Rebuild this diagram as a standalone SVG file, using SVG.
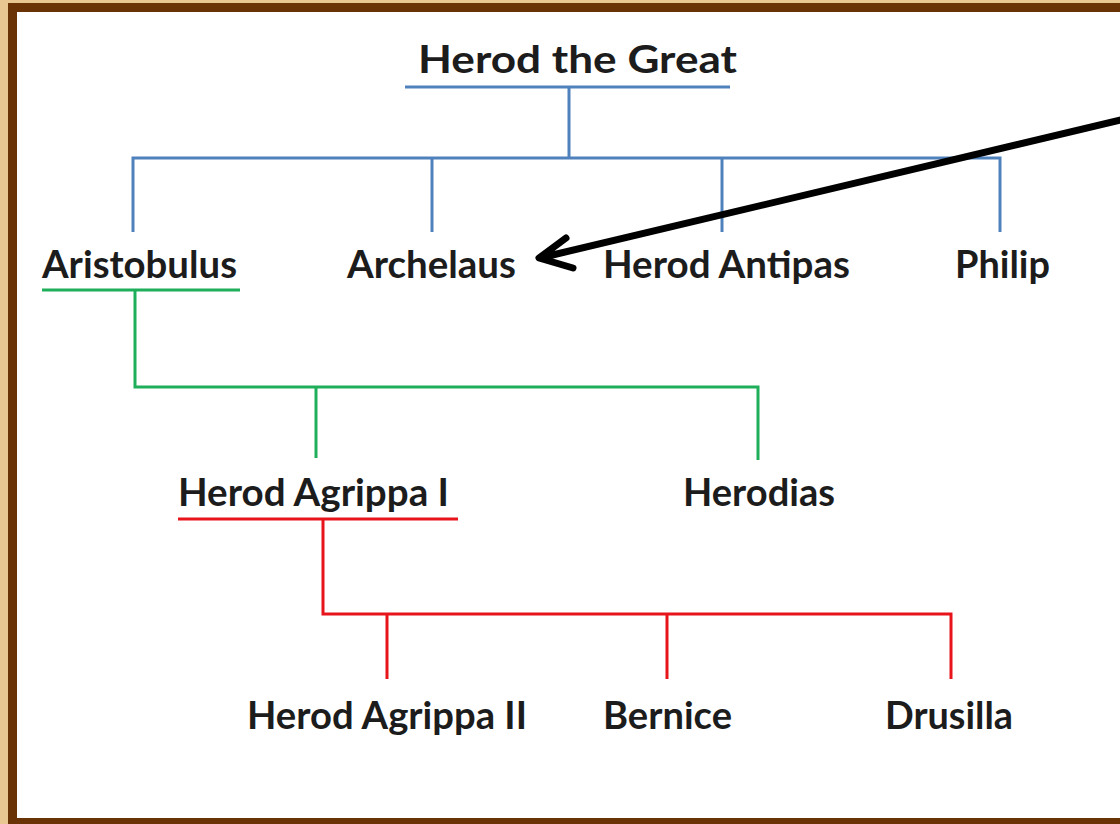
<svg xmlns="http://www.w3.org/2000/svg" width="1120" height="824" viewBox="0 0 1120 824">
  <style>
    .t { font-family: Lato, "Open Sans", "Liberation Sans", sans-serif; font-weight: bold; font-size: 38px; fill: #1c1c1c; }
    .b { stroke: #4f81bd; stroke-width: 3; fill: none; }
    .g { stroke: #1fae5a; stroke-width: 3; fill: none; }
    .r { stroke: #e8141c; stroke-width: 3; fill: none; }
    .arrow { stroke: #000; stroke-width: 7; fill: none; stroke-linecap: round; stroke-linejoin: round; }
  </style>
  <rect x="0" y="0" width="1120" height="824" fill="#e8c890"/>
  <rect x="12.5" y="7.5" width="1130" height="815" fill="#ffffff" stroke="#6a3305" stroke-width="9"/>

  <g id="connectors">
    <path class="b" d="M 405 87 H 730 M 569 87 V 158 M 133 232 V 158 H 1000 V 232 M 432 158 V 232 M 722 158 V 232"/>
    <path class="g" d="M 42 290 H 240 M 135 290 V 387 H 758 V 460 M 316 387 V 458"/>
    <path class="r" d="M 178 519 H 458 M 323 519 V 614 H 951 V 679 M 387 614 V 679 M 667 614 V 679"/>
    <path class="arrow" d="M 1125 119 L 540 258 M 566 238 L 539 258 L 573 268"/>
  </g>

  <g id="herod-the-great"><text class="t" x="418" y="73" textLength="319" lengthAdjust="spacingAndGlyphs" font-size="41">Herod the Great</text></g>
  <g id="aristobulus"><text class="t" x="42" y="278" textLength="195" lengthAdjust="spacingAndGlyphs">Aristobulus</text></g>
  <g id="archelaus"><text class="t" x="347" y="278" textLength="169" lengthAdjust="spacingAndGlyphs">Archelaus</text></g>
  <g id="herod-antipas"><text class="t" x="603" y="278" textLength="247" lengthAdjust="spacingAndGlyphs">Herod Antipas</text></g>
  <g id="philip"><text class="t" x="955" y="278" textLength="95" lengthAdjust="spacingAndGlyphs">Philip</text></g>
  <g id="herod-agrippa-i"><text class="t" x="178" y="506" textLength="271" lengthAdjust="spacingAndGlyphs">Herod Agrippa I</text></g>
  <g id="herodias"><text class="t" x="683" y="506" textLength="152" lengthAdjust="spacingAndGlyphs">Herodias</text></g>
  <g id="herod-agrippa-ii"><text class="t" x="247" y="729" textLength="280" lengthAdjust="spacingAndGlyphs">Herod Agrippa II</text></g>
  <g id="bernice"><text class="t" x="603" y="729" textLength="129" lengthAdjust="spacingAndGlyphs">Bernice</text></g>
  <g id="drusilla"><text class="t" x="885" y="729" textLength="128" lengthAdjust="spacingAndGlyphs">Drusilla</text></g>
</svg>
